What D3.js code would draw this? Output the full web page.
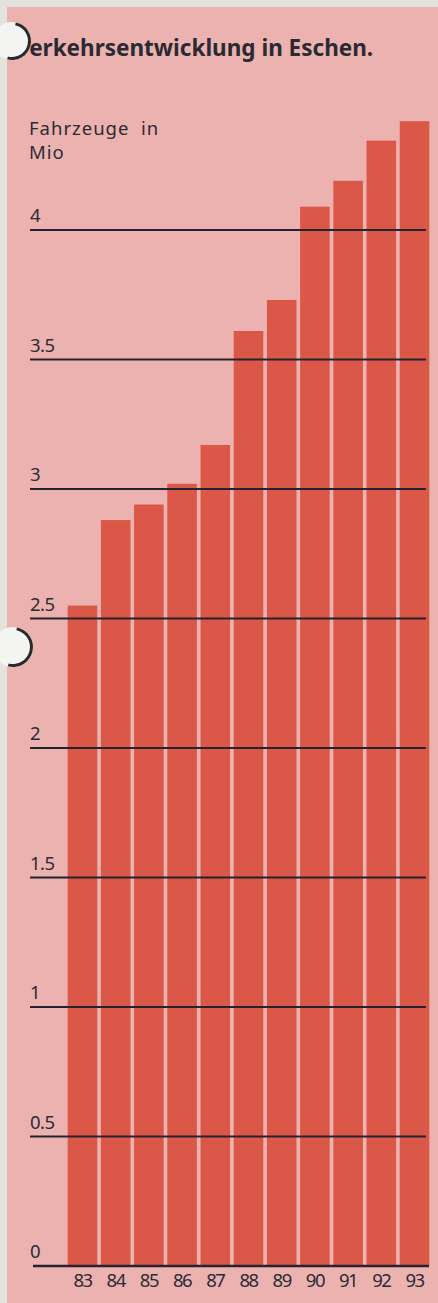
<!DOCTYPE html>
<html>
<head>
<meta charset="utf-8">
<script src="https://cdn.jsdelivr.net/npm/d3@7"></script>
<style>
  html, body { margin: 0; padding: 0; background: #e4e2dc; }
  svg { display: block; }
</style>
</head>
<body>
<div id="chart"></div>
<script>
// data
const years = ["83", "84", "85", "86", "87", "88", "89", "90", "91", "92", "93"];
const vehicles = [2.55, 2.88, 2.94, 3.02, 3.17, 3.61, 3.73, 4.09, 4.19, 4.345, 4.42];
const yTicks = [0, 0.5, 1, 1.5, 2, 2.5, 3, 3.5, 4];
const title = "Verkehrsentwicklung in Eschen.";
const unitLines = ["Fahrzeuge  in", "Mio"];

const W = 438, H = 1303;
const font = "'Noto Sans', 'DejaVu Sans', sans-serif";

const svg = d3.select("#chart").append("svg")
    .attr("width", W)
    .attr("height", H);

// paper + pink print area
svg.append("rect").attr("width", W).attr("height", H).attr("fill", "#e4e2dc");
svg.append("rect").attr("x", 7).attr("y", 7).attr("width", W - 7).attr("height", H - 7)
    .attr("fill", "#ecb2af");

const x = d3.scaleBand().domain(years).range([67.7, 429.3]).paddingInner(0.11).paddingOuter(0);
const y = d3.scaleLinear().domain([0, 4]).range([1266, 230]);

// bars
svg.append("g").selectAll("rect")
    .data(vehicles)
    .join("rect")
    .attr("x", (d, i) => x(years[i]))
    .attr("y", d => y(d))
    .attr("width", x.bandwidth())
    .attr("height", d => y(0) - y(d))
    .attr("fill", "#db5747");

// grid lines drawn over the bars, labels sitting on top of them
const grid = svg.append("g");
grid.selectAll("line")
    .data(yTicks)
    .join("line")
    .attr("x1", d => d === 0 ? 33 : 30)
    .attr("x2", d => d === 0 ? 429 : 426)
    .attr("y1", d => y(d))
    .attr("y2", d => y(d))
    .attr("stroke", "#23242f")
    .attr("stroke-width", d => d === 0 ? 2.6 : 2);

grid.selectAll("text")
    .data(yTicks)
    .join("text")
    .attr("x", 30)
    .attr("y", d => y(d) - 8)
    .attr("font-family", font)
    .attr("font-size", 18.5)
    .attr("letter-spacing", -0.5)
    .attr("fill", "#2b2b36")
    .text(d => d);

// x labels
svg.append("g").selectAll("text")
    .data(years)
    .join("text")
    .attr("x", d => x(d) + x.bandwidth() / 2)
    .attr("y", 1287)
    .attr("text-anchor", "middle")
    .attr("font-family", font)
    .attr("font-size", 18.5)
    .attr("letter-spacing", -1.5)
    .attr("fill", "#2b2b36")
    .text(d => d);

// unit label on two lines
svg.append("g").selectAll("text")
    .data(unitLines)
    .join("text")
    .attr("x", 29)
    .attr("y", (d, i) => 135 + i * 24)
    .attr("font-family", font)
    .attr("font-size", 18.5)
    .attr("letter-spacing", 1)
    .attr("fill", "#2b2b36")
    .style("white-space", "pre")
    .text(d => d);

// title
svg.append("text")
    .attr("x", 15)
    .attr("y", 56)
    .attr("font-family", font)
    .attr("font-size", 22.5)
    .attr("font-weight", "bold")
    .attr("fill", "#2a2a33")
    .text(title);

// punched holes
[[12, 41, 19], [13, 647, 20]].forEach(([cx, cy, r]) => {
  svg.append("circle").attr("cx", cx).attr("cy", cy).attr("r", r)
      .attr("fill", "#f4f4f2");
  svg.append("path")
      .attr("d", d3.arc()({innerRadius: r - 3, outerRadius: r, startAngle: 0.2, endAngle: 3.4}))
      .attr("transform", `translate(${cx},${cy})`)
      .attr("fill", "#2a2a2a");
});
</script>
</body>
</html>
